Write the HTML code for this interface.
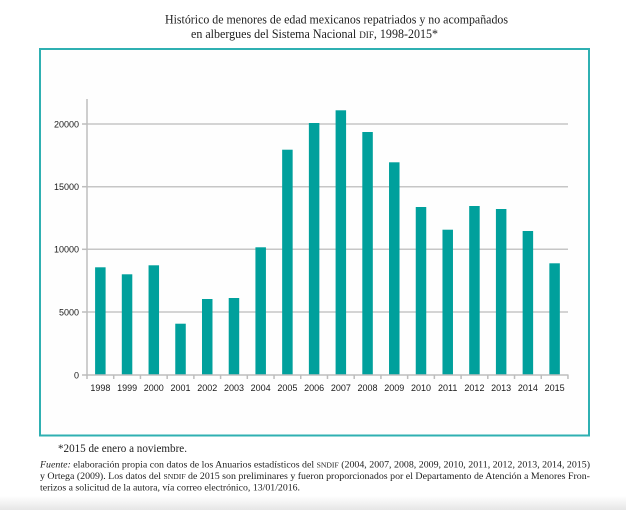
<!DOCTYPE html>
<html>
<head>
<meta charset="utf-8">
<style>
  html,body{margin:0;padding:0;background:#ffffff;}
  svg{display:block;}
  .serif{font-family:"Liberation Serif","DejaVu Serif",serif;fill:#1e1e1e;}
  .sans{font-family:"Liberation Sans","DejaVu Sans",sans-serif;fill:#1a1a1a;font-size:9px;}
</style>
</head>
<body>
<svg width="626" height="510" viewBox="0 0 626 510" xmlns="http://www.w3.org/2000/svg">
  <defs>
    <linearGradient id="bot" x1="0" y1="0" x2="0" y2="1">
      <stop offset="0" stop-color="#ffffff"/>
      <stop offset="1" stop-color="#e6e6e6"/>
    </linearGradient>
  </defs>
  <rect x="0" y="0" width="626" height="510" fill="#ffffff"/>
  <rect x="0" y="496" width="626" height="14" fill="url(#bot)"/>

  <!-- Title -->
  <text class="serif" x="165" y="23.5" font-size="12.5" textLength="343" lengthAdjust="spacingAndGlyphs">Histórico de menores de edad mexicanos repatriados y no acompañados</text>
  <text class="serif" x="191" y="38" font-size="12.5" textLength="247" lengthAdjust="spacingAndGlyphs">en albergues del Sistema Nacional <tspan font-size="9.5">DIF</tspan>, 1998-2015*</text>

  <!-- Box -->
  <rect x="40" y="49" width="549" height="386.5" fill="#fefefe" stroke="#2fb0b2" stroke-width="2"/>

  <!-- Gridlines -->
  <g stroke="#c6c6c6" stroke-width="1.5">
    <line x1="87" y1="124" x2="568" y2="124"/>
    <line x1="87" y1="186.7" x2="568" y2="186.7"/>
    <line x1="87" y1="249.3" x2="568" y2="249.3"/>
    <line x1="87" y1="312" x2="568" y2="312"/>
  </g>

  <!-- Bars -->
  <g fill="#00a09c">
    <rect x="95.1" y="267.3" width="10.5" height="107.7"/>
    <rect x="121.8" y="274.3" width="10.5" height="100.7"/>
    <rect x="148.55" y="265.3" width="10.5" height="109.7"/>
    <rect x="175.27" y="323.7" width="10.5" height="51.3"/>
    <rect x="201.99" y="299" width="10.5" height="76"/>
    <rect x="228.71" y="298" width="10.5" height="77"/>
    <rect x="255.43" y="247.3" width="10.5" height="127.7"/>
    <rect x="282.15" y="149.7" width="10.5" height="225.3"/>
    <rect x="308.87" y="123" width="10.5" height="252"/>
    <rect x="335.59" y="110.3" width="10.5" height="264.7"/>
    <rect x="362.31" y="132" width="10.5" height="243"/>
    <rect x="389.03" y="162.3" width="10.5" height="212.7"/>
    <rect x="415.75" y="207" width="10.5" height="168"/>
    <rect x="442.47" y="229.7" width="10.5" height="145.3"/>
    <rect x="469.19" y="206" width="10.5" height="169"/>
    <rect x="495.91" y="209" width="10.5" height="166"/>
    <rect x="522.63" y="231" width="10.5" height="144"/>
    <rect x="549.35" y="263.3" width="10.5" height="111.7"/>
  </g>

  <!-- Axes -->
  <g stroke="#bdbdbd" stroke-width="1.5">
    <line x1="87" y1="99" x2="87" y2="376"/>
    <line x1="86.3" y1="375" x2="568.5" y2="375"/>
    <!-- y ticks -->
    <line x1="82" y1="124" x2="87" y2="124"/>
    <line x1="82" y1="186.7" x2="87" y2="186.7"/>
    <line x1="82" y1="249.3" x2="87" y2="249.3"/>
    <line x1="82" y1="312" x2="87" y2="312"/>
    <line x1="82" y1="375" x2="87" y2="375"/>
    <!-- x ticks -->
    <line x1="87" y1="375" x2="87" y2="379"/>
    <line x1="113.72" y1="375" x2="113.72" y2="379"/>
    <line x1="140.44" y1="375" x2="140.44" y2="379"/>
    <line x1="167.16" y1="375" x2="167.16" y2="379"/>
    <line x1="193.88" y1="375" x2="193.88" y2="379"/>
    <line x1="220.6" y1="375" x2="220.6" y2="379"/>
    <line x1="247.32" y1="375" x2="247.32" y2="379"/>
    <line x1="274.04" y1="375" x2="274.04" y2="379"/>
    <line x1="300.76" y1="375" x2="300.76" y2="379"/>
    <line x1="327.48" y1="375" x2="327.48" y2="379"/>
    <line x1="354.2" y1="375" x2="354.2" y2="379"/>
    <line x1="380.92" y1="375" x2="380.92" y2="379"/>
    <line x1="407.64" y1="375" x2="407.64" y2="379"/>
    <line x1="434.36" y1="375" x2="434.36" y2="379"/>
    <line x1="461.08" y1="375" x2="461.08" y2="379"/>
    <line x1="487.8" y1="375" x2="487.8" y2="379"/>
    <line x1="514.52" y1="375" x2="514.52" y2="379"/>
    <line x1="541.24" y1="375" x2="541.24" y2="379"/>
    <line x1="567.96" y1="375" x2="567.96" y2="379"/>
  </g>

  <!-- Y labels -->
  <g class="sans" text-anchor="end">
    <text x="79" y="127.3">20000</text>
    <text x="79" y="190">15000</text>
    <text x="79" y="252.6">10000</text>
    <text x="79" y="315.3">5000</text>
    <text x="79" y="378.3">0</text>
  </g>

  <!-- X labels -->
  <g class="sans" text-anchor="middle">
    <text x="100.36" y="391">1998</text>
    <text x="127.08" y="391">1999</text>
    <text x="153.8" y="391">2000</text>
    <text x="180.52" y="391">2001</text>
    <text x="207.24" y="391">2002</text>
    <text x="233.96" y="391">2003</text>
    <text x="260.68" y="391">2004</text>
    <text x="287.4" y="391">2005</text>
    <text x="314.12" y="391">2006</text>
    <text x="340.84" y="391">2007</text>
    <text x="367.56" y="391">2008</text>
    <text x="394.28" y="391">2009</text>
    <text x="421" y="391">2010</text>
    <text x="447.72" y="391">2011</text>
    <text x="474.44" y="391">2012</text>
    <text x="501.16" y="391">2013</text>
    <text x="527.88" y="391">2014</text>
    <text x="554.6" y="391">2015</text>
  </g>

  <!-- Footnotes -->
  <text class="serif" x="58" y="452" font-size="11.5" textLength="129" lengthAdjust="spacingAndGlyphs">*2015 de enero a noviembre.</text>
  <text class="serif" x="40" y="467.5" font-size="9.3" textLength="550" lengthAdjust="spacingAndGlyphs"><tspan font-style="italic">Fuente:</tspan> elaboración propia con datos de los Anuarios estadísticos del <tspan font-size="7.2">SNDIF</tspan> (2004, 2007, 2008, 2009, 2010, 2011, 2012, 2013, 2014, 2015)</text>
  <text class="serif" x="40" y="479" font-size="9.3" textLength="550" lengthAdjust="spacingAndGlyphs">y Ortega (2009). Los datos del <tspan font-size="7.2">SNDIF</tspan> de 2015 son preliminares y fueron proporcionados por el Departamento de Atención a Menores Fron-</text>
  <text class="serif" x="40" y="490.5" font-size="9.3" textLength="260" lengthAdjust="spacingAndGlyphs">terizos a solicitud de la autora, vía correo electrónico, 13/01/2016.</text>
</svg>
</body>
</html>
